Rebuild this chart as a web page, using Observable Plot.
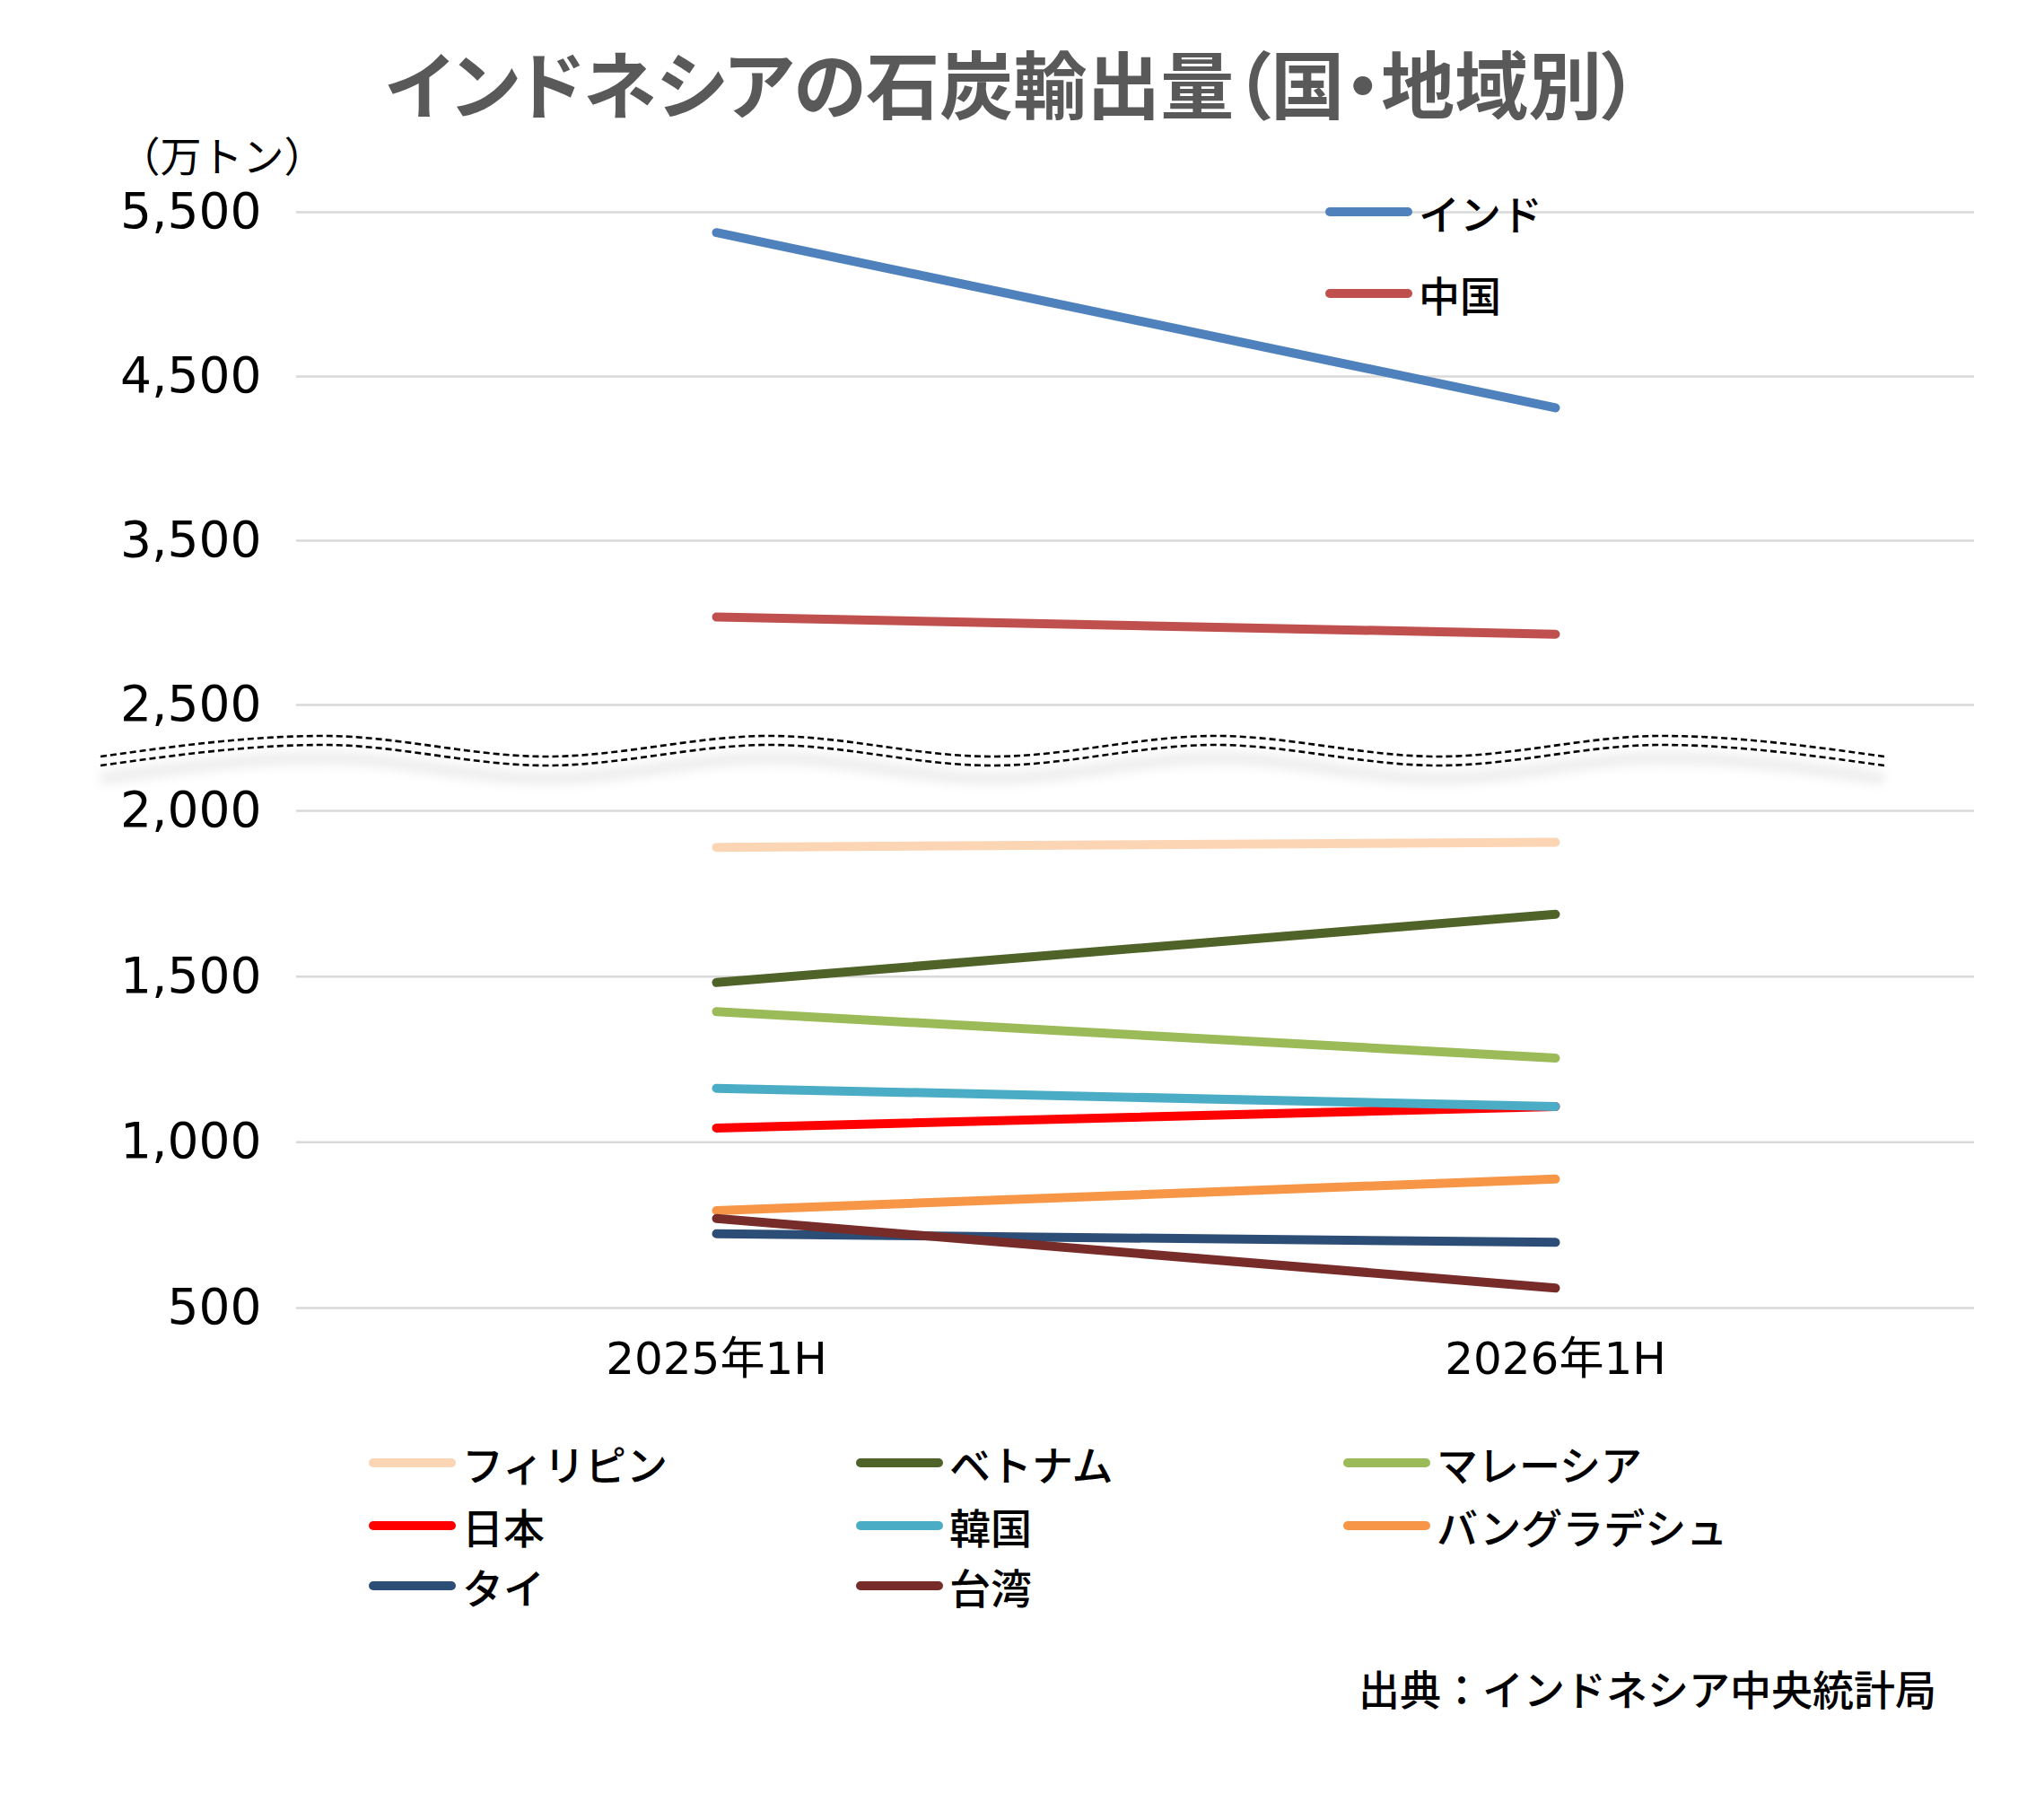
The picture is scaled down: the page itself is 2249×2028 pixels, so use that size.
<!DOCTYPE html>
<html>
<head>
<meta charset="utf-8">
<script src="https://cdn.jsdelivr.net/npm/d3@7"></script>
<script src="https://cdn.jsdelivr.net/npm/@observablehq/plot@0.6"></script>
<style>
  html, body { margin: 0; padding: 0; background: #fff; }
  #wrap { position: relative; width: 2249px; height: 2028px; background: #fff; overflow: hidden;
          font-family: "Noto Sans CJK JP", "DejaVu Sans", sans-serif; color: #000; }
  #title { position: absolute; left: 0; top: 36px; width: 2256px; text-align: center;
           font-size: 82px; font-weight: 700; color: #595959; line-height: 110px; white-space: nowrap;
           font-feature-settings: "palt"; }
  #chart { position: absolute; left: 0; top: 150px; }
  .lg { position: absolute; height: 60px; display: flex; align-items: center; white-space: nowrap; }
  .lg .sw { width: 97px; height: 10px; border-radius: 5px; }
  .lg .tx { margin-left: 7px; font-size: 46px; font-weight: 500; line-height: 60px; }
  #source { position: absolute; right: 91px; top: 1850px; height: 60px; line-height: 60px;
            font-size: 46px; font-weight: 500; white-space: nowrap; }
</style>
</head>
<body>
<div id="wrap">
  <div id="title"></div>
  <div id="chart"></div>
  <div id="source"></div>
</div>
<script>
// ---- data ----
const titleText = "インドネシアの石炭輸出量（国・地域別）";
const unitLabel = "（万トン）";
const sourceText = "出典：インドネシア中央統計局";
const periods = ["2025年1H", "2026年1H"];
const countries = ["インド", "中国", "フィリピン", "ベトナム", "マレーシア", "日本", "韓国", "バングラデシュ", "タイ", "台湾"];
const colors = ["#4F81BD", "#C0504D", "#FCD5B5", "#4F6228", "#9BBB59", "#FF0000", "#4BACC6", "#F79646", "#2C4D75", "#772C2A"];
const values2025 = [5376, 3035, 1890, 1482, 1394, 1043, 1163, 794, 724, 770];
const values2026 = [4309, 2931, 1905, 1688, 1254, 1108, 1108, 889, 698, 560];
const yTicks = [500, 1000, 1500, 2000, 2500, 3500, 4500, 5500];
const yBreakDomain = [500, 2000, 2500, 5500];
const legendTop = ["インド", "中国"];
const legendBottom = [
  ["フィリピン", "ベトナム", "マレーシア"],
  ["日本", "韓国", "バングラデシュ"],
  ["タイ", "台湾"]
];

// ---- table ----
const rows = countries.flatMap((c, i) => [
  {country: c, period: periods[0], value: values2025[i]},
  {country: c, period: periods[1], value: values2026[i]}
]);
const colorOf = new Map(countries.map((c, i) => [c, colors[i]]));

document.getElementById("title").textContent = titleText;
document.getElementById("source").textContent = sourceText;

// ---- chart ----
const W = 2249, H = 1410, mL = 330, mR = 49, mT = 86, mB = 103;
const bottom = H - mB;
const yRange = [bottom, bottom - 554, mT + 549, mT];

const chart = Plot.plot({
  width: W, height: H,
  marginLeft: mL, marginRight: mR, marginTop: mT, marginBottom: mB,
  style: {fontFamily: '"DejaVu Sans", "Noto Sans CJK JP", sans-serif', fontSize: "50px", color: "#000", background: "#fff", overflow: "visible"},
  x: {type: "point", domain: periods, padding: 0.5, label: null},
  y: {type: "linear", domain: yBreakDomain, range: yRange, label: null},
  color: {domain: countries, range: colors},
  marks: [
    Plot.gridY(yTicks, {stroke: "#d9d9d9", strokeOpacity: 1, strokeWidth: 2.5}),
    Plot.axisY(yTicks, {tickSize: 0, tickPadding: 39, tickFormat: d3.format(","), fontSize: 55, label: null}),
    Plot.axisX({tickSize: 0, tickPadding: 38, fontSize: 50, label: null}),
    Plot.line(rows, {x: "period", y: "value", z: "country", stroke: "country", strokeWidth: 10,
                     strokeLinecap: "round", strokeLinejoin: "round"}),
    Plot.text([unitLabel], {text: d => d, frameAnchor: "top-left", dx: -198, dy: -78,
                            textAnchor: "start", fontSize: 46, fontFamily: '"Noto Sans CJK JP", sans-serif'})
  ]
});
document.getElementById("chart").appendChild(chart);

// ---- axis break decoration (wavy double dashed line) ----
const ys = chart.scale("y");
const yMid = (ys.apply(2000) + ys.apply(2500)) / 2;
const svg = d3.select(chart);
const defs = svg.append("defs");
defs.append("filter").attr("id", "blur").attr("x", "-5%").attr("y", "-200%").attr("width", "110%").attr("height", "500%")
  .append("feGaussianBlur").attr("stdDeviation", 6);
const half = 248.5, x0 = 112, nSeg = 8, amp = 11.5;
function wave(center) {
  const pts = d3.range(nSeg + 1).map(i => [x0 + i * half, center + (i % 2 === 0 ? amp : -amp)]);
  return d3.line().curve(d3.curveMonotoneX)(pts);
}
const g = svg.append("g");
g.append("path").attr("d", wave(yMid + 12)).attr("fill", "none").attr("stroke", "#000")
  .attr("stroke-opacity", 0.07).attr("stroke-width", 14).attr("filter", "url(#blur)");
g.append("path").attr("d", wave(yMid - 7)).attr("fill", "none").attr("stroke", "#fff").attr("stroke-width", 10);
[yMid - 12.5, yMid - 2.5].forEach(c => {
  g.append("path").attr("d", wave(c)).attr("fill", "none").attr("stroke", "#000")
    .attr("stroke-width", 2.6).attr("stroke-dasharray", "7,4");
});

// ---- legends ----
const wrap = document.getElementById("wrap");
function legendItem(name, x, cy) {
  const d = document.createElement("div");
  d.className = "lg";
  d.style.left = x + "px";
  d.style.top = (cy - 30) + "px";
  const sw = document.createElement("div");
  sw.className = "sw";
  sw.style.background = colorOf.get(name);
  const tx = document.createElement("span");
  tx.className = "tx";
  tx.textContent = name;
  d.appendChild(sw); d.appendChild(tx);
  wrap.appendChild(d);
}
legendTop.forEach((n, i) => legendItem(n, 1477, 236 + i * 91));
const colX = [411, 954, 1497], rowY = [1630, 1700, 1767];
legendBottom.forEach((row, r) => row.forEach((n, c) => legendItem(n, colX[c], rowY[r])));
</script>
</body>
</html>
